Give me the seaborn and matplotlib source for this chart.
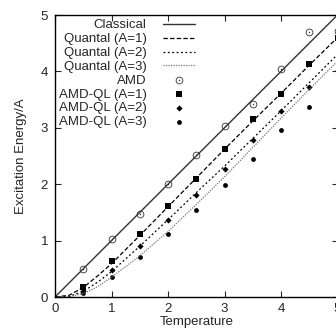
import matplotlib
matplotlib.use("Agg")
import matplotlib.pyplot as plt
import seaborn as sns

# temperature grid for the curves
temp = [0, 0.25, 0.5, 0.75, 1, 1.5, 2, 2.5, 3, 3.5, 4, 4.5, 5]
classical = [0, 0.25, 0.5, 0.75, 1, 1.5, 2, 2.5, 3, 3.5, 4, 4.5, 5]
quantal_a1 = [0, 0.03, 0.17, 0.37, 0.59, 1.09, 1.60, 2.11, 2.62, 3.12, 3.61, 4.11, 4.60]
quantal_a2 = [0, 0.01, 0.10, 0.26, 0.45, 0.90, 1.37, 1.85, 2.32, 2.81, 3.30, 3.80, 4.30]
quantal_a3 = [0, 0.005, 0.06, 0.18, 0.35, 0.73, 1.16, 1.64, 2.13, 2.65, 3.17, 3.68, 4.18]

# AMD simulation points
temp_pts = [0.5, 1, 1.5, 2, 2.5, 3, 3.5, 4, 4.5, 5]
amd = [0.50, 1.02, 1.47, 2.01, 2.52, 3.04, 3.43, 4.04, 4.69, 4.72]
amdql_a1 = [0.17, 0.63, 1.12, 1.62, 2.09, 2.63, 3.16, 3.60, 4.13, 4.60]
amdql_a2 = [0.10, 0.47, 0.90, 1.36, 1.81, 2.27, 2.78, 3.29, 3.72, 4.02]
amdql_a3 = [0.07, 0.35, 0.71, 1.12, 1.55, 1.98, 2.45, 2.96, 3.36, 3.90]

sns.set_style("ticks")
plt.rcParams['font.family'] = ['Liberation Sans', 'DejaVu Sans']
plt.rcParams['font.size'] = 9.5

fig = plt.figure(figsize=(3.36, 3.29), dpi=100)
ax = fig.add_axes([55 / 336, 32 / 329, 282.5 / 336, 282 / 329])

sns.lineplot(x=temp, y=classical, ax=ax, color='#333333', lw=1, label='Classical')
sns.lineplot(x=temp, y=quantal_a1, ax=ax, color='black', lw=0.9, label='Quantal (A=1)',
             linestyle=(0, (3.5, 1.8)))
sns.lineplot(x=temp, y=quantal_a2, ax=ax, color='black', lw=0.9, label='Quantal (A=2)',
             linestyle=(0, (1.5, 2)))
sns.lineplot(x=temp, y=quantal_a3, ax=ax, color='#777777', lw=0.9, label='Quantal (A=3)',
             linestyle=(0, (1, 1)))

sns.scatterplot(x=temp_pts, y=amd, ax=ax, marker='$\\odot$', s=30, color='#333333',
                linewidth=0, label='AMD', clip_on=False)
sns.scatterplot(x=temp_pts, y=amdql_a1, ax=ax, marker='s', s=22, color='black',
                linewidth=0, label='AMD-QL (A=1)', clip_on=False)
sns.scatterplot(x=temp_pts, y=amdql_a2, ax=ax, marker='D', s=10, color='black',
                linewidth=0, label='AMD-QL (A=2)', clip_on=False)
sns.scatterplot(x=temp_pts, y=amdql_a3, ax=ax, marker='o', s=12, color='black',
                linewidth=0, label='AMD-QL (A=3)', clip_on=False)

ax.set_xlim(0, 5)
ax.set_ylim(0, 5)
ax.set_xticks([0, 1, 2, 3, 4, 5])
ax.set_yticks([0, 1, 2, 3, 4, 5])
ax.tick_params(direction='in', length=4, width=0.8, top=True, right=True)
ax.tick_params(axis='x', pad=4.5)
ax.tick_params(axis='y', pad=5)
for sp in ax.spines.values():
    sp.set_visible(True)
    sp.set_linewidth(1)
    sp.set_color('black')

ax.set_xlabel('Temperature')
ax.xaxis.set_label_coords(0.5, -0.068)
ax.set_ylabel('Excitation Energy/A', labelpad=10)

ax.legend(loc='upper right', bbox_to_anchor=(0.53, 1.02), frameon=False, markerfirst=False,
          handlelength=2.4, handletextpad=1.25, labelspacing=0.12, borderpad=0.25,
          fontsize=9.5)

fig.savefig('out.png', dpi=100)
